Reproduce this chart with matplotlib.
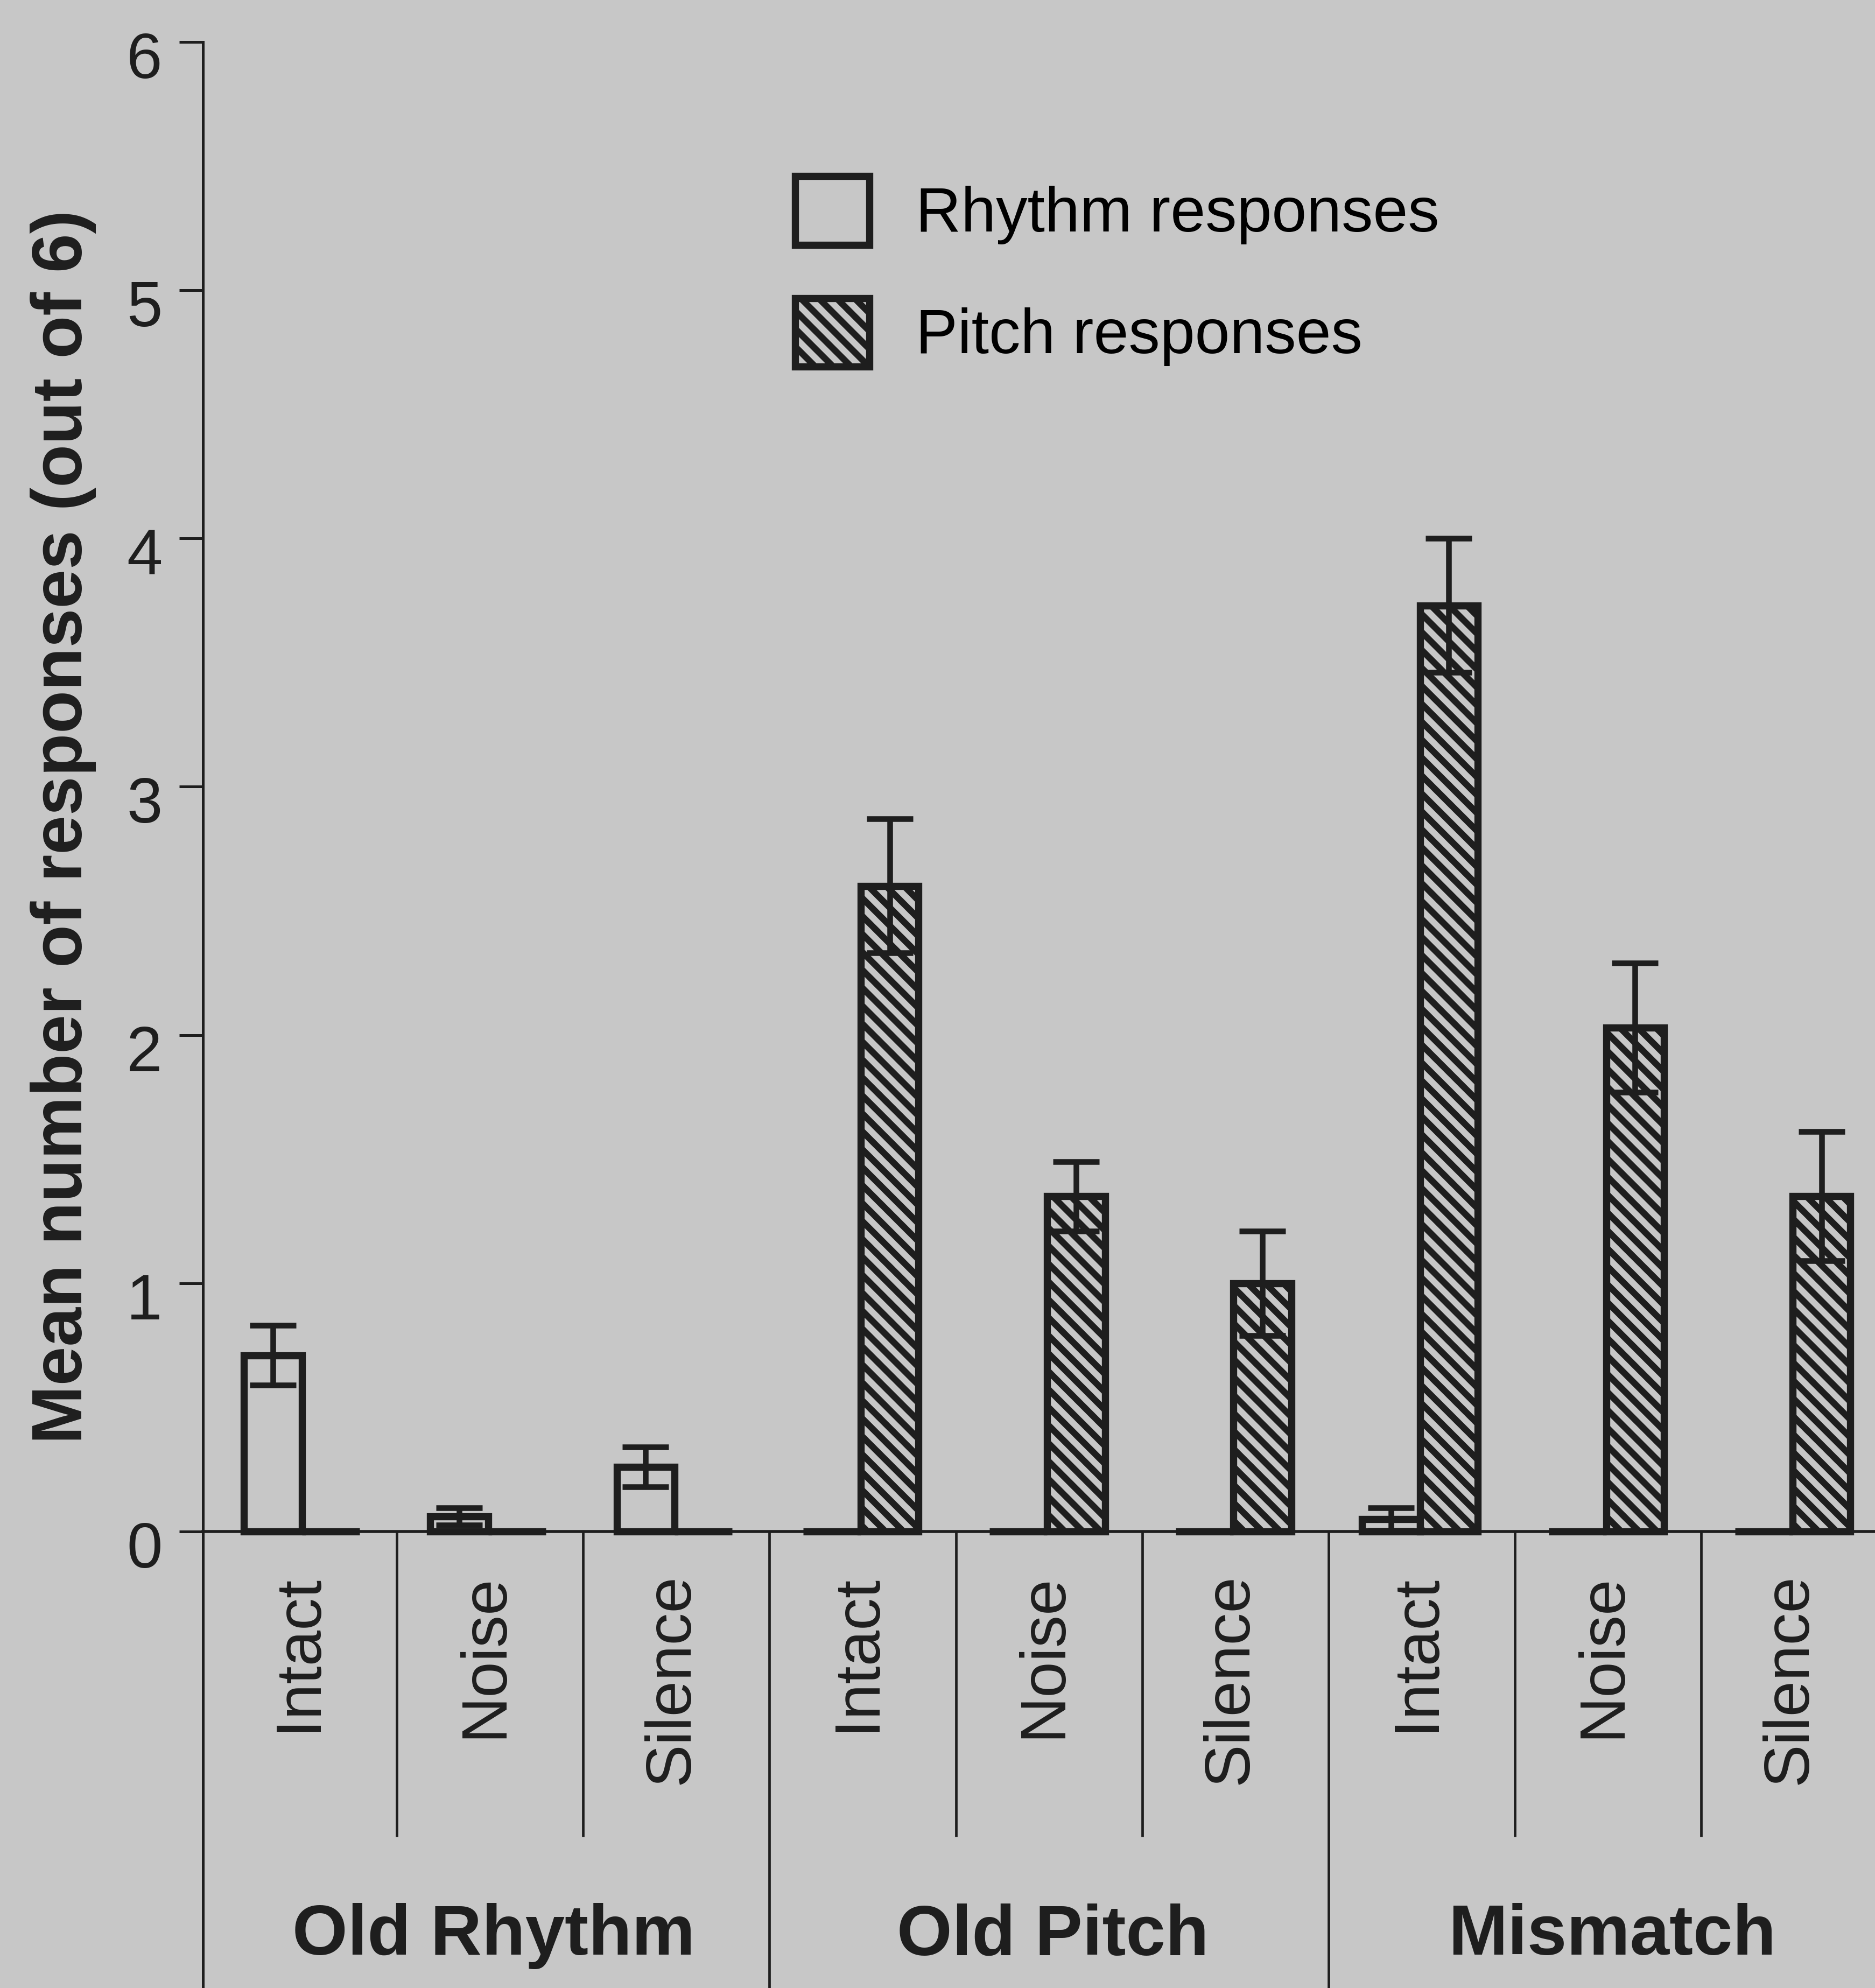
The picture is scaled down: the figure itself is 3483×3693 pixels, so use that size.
import numpy as np
import matplotlib.pyplot as plt
import matplotlib.transforms as mtransforms

plt.rcParams['font.family'] = ['Liberation Sans', 'DejaVu Sans']
plt.rcParams['hatch.linewidth'] = 4.3
plt.rcParams['hatch.color'] = '#1e1e1e'

BG = '#c7c7c7'
INK = '#1e1e1e'

# ---- data ----
groups = ['Old Rhythm', 'Old Pitch', 'Mismatch']
conditions = ['Intact', 'Noise', 'Silence',
              'Intact', 'Noise', 'Silence',
              'Intact', 'Noise', 'Silence']
rhythm_mean = [0.71, 0.06, 0.26, 0.0, 0.0, 0.0, 0.05, 0.0, 0.0]
rhythm_se = [0.12, 0.035, 0.08, 0.0, 0.0, 0.0, 0.045, 0.0, 0.0]
pitch_mean = [0.0, 0.0, 0.0, 2.60, 1.35, 1.00, 3.73, 2.03, 1.35]
pitch_se = [0.0, 0.0, 0.0, 0.27, 0.14, 0.21, 0.27, 0.26, 0.26]
yticks = [0, 1, 2, 3, 4, 5, 6]

# ---- figure ----
fig = plt.figure(figsize=(3483 / 200, 3693 / 200), dpi=200, facecolor=BG)
ax = fig.add_axes([160 / 1479, 0, 1 - 160 / 1479, 1 - 33 / 1568])
ax.set_facecolor(BG)

x = np.arange(len(conditions))
width = 0.31
r_pos = x + 0.335
p_pos = x + 0.645

ax.bar(r_pos, rhythm_mean, width, facecolor='none', edgecolor=INK,
       linewidth=4.8, label='Rhythm responses', zorder=3)
ax.bar(p_pos, pitch_mean, width, facecolor=BG, edgecolor=INK, hatch='\\\\',
       linewidth=4.8, label='Pitch responses', zorder=3)

rm, rs = np.array(rhythm_mean), np.array(rhythm_se)
pm, ps = np.array(pitch_mean), np.array(pitch_se)
for pos, m, s in [(r_pos, rm, rs), (p_pos, pm, ps)]:
    keep = s > 0
    ax.errorbar(pos[keep], m[keep], yerr=s[keep], fmt='none', ecolor=INK,
                elinewidth=3.8, capsize=15.6, capthick=3.8, zorder=4)

# axes
ybot = -(1568 - 1208) / 195.8
ax.set_ylim(ybot, 6)
ax.set_xlim((160 - 166) / 147, (1479 - 166) / 147)
ax.spines['top'].set_visible(False)
ax.spines['right'].set_visible(False)
ax.spines['left'].set_linewidth(1.8)
ax.spines['left'].set_color(INK)
ax.spines['bottom'].set_position(('data', 0))
ax.spines['bottom'].set_linewidth(2)
ax.spines['bottom'].set_color(INK)
ax.set_xticks([])
ax.set_yticks(yticks)
ax.tick_params(axis='y', length=16, width=1.8, pad=11, labelsize=43,
               colors=INK)
# tick numbers sit a little below their ticks in the original
shift = mtransforms.ScaledTranslation(0, -24 / 200, fig.dpi_scale_trans)
for lab in ax.get_yticklabels():
    lab.set_transform(lab.get_transform() + shift)

# category separators
ax.vlines([1, 2, 4, 5, 7, 8], -1.23, 0, lw=1.7, color=INK)
ax.vlines([3, 6, 9], ybot, 0, lw=1.7, color=INK)

for i, c in enumerate(conditions):
    ax.text(i + 0.475, -0.17, c, rotation=90, ha='center', va='top',
            fontsize=43, color=INK)
for g, name in enumerate(groups):
    ax.text(1.52 + 3 * g, -1.63, name, ha='center', va='center',
            fontsize=47.5, fontweight='bold', color=INK)

ax.set_ylabel('Mean number of responses (out of 6)', fontsize=47,
              fontweight='bold', color=INK, va='center')
ax.yaxis.set_label_coords(-110 / 1319, (1568 - 652) / 1535)

ax.legend(loc='upper left', bbox_to_anchor=(627 / 1479, 1 - 139 / 1568),
          bbox_transform=fig.transFigure, frameon=False, fontsize=42,
          handlelength=1.19, handleheight=1.3, handletextpad=0.73,
          labelspacing=0.85, borderpad=0, borderaxespad=0)

fig.savefig('out.png', dpi=200, facecolor=BG)
